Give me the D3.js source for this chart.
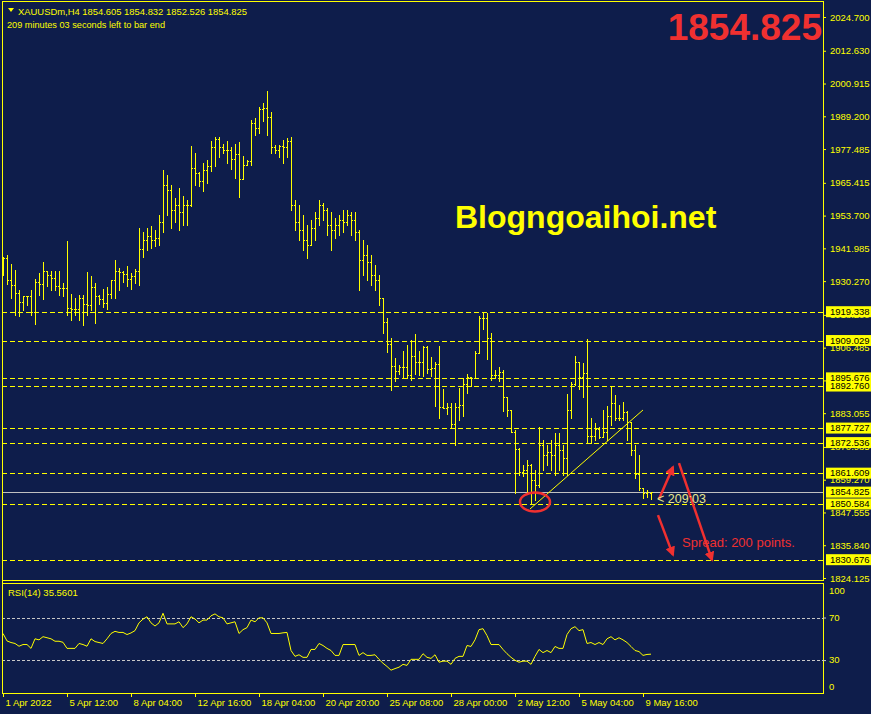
<!DOCTYPE html>
<html><head><meta charset="utf-8">
<script src="https://cdn.jsdelivr.net/npm/d3@7"></script>
<style>html,body{margin:0;padding:0;background:#0e1d4b;overflow:hidden}</style>
</head><body>
<svg id="c" width="871" height="714"></svg>
<script>
const symbol = "XAUUSDm,H4";
const countdownText = "209 minutes 03 seconds left to bar end";
const openP = [1934.3,1938.5,1930.7,1928.9,1926.0,1922.8,1924.9,1924.9,1919.2,1930.0,
1929.2,1933.9,1932.5,1931.4,1928.5,1927.8,1927.8,1920.7,1920.3,1920.3,
1924.2,1922.1,1921.7,1928.2,1924.9,1923.9,1922.5,1925.7,1930.7,1933.9,
1933.5,1932.8,1931.0,1932.1,1933.9,1941.8,1945.0,1946.4,1945.0,1945.7,
1951.4,1964.6,1962.9,1955.7,1957.5,1955.0,1957.5,1957.5,1970.7,1968.9,
1966.1,1970.0,1971.4,1978.2,1981.1,1978.2,1977.2,1977.2,1973.9,1975.7,
1966.8,1971.8,1973.2,1986.8,1985.0,1991.8,1992.2,1989.0,1978.2,1977.2,
1978.6,1978.2,1980.4,1957.5,1951.4,1948.6,1945.0,1943.2,1949.3,1952.8,
1957.5,1955.7,1950.3,1948.6,1950.3,1952.1,1951.4,1953.9,1952.1,1947.8,
1937.8,1939.6,1937.1,1932.5,1930.7,1924.2,1915.7,1907.8,1900.0,1898.1,
1899.6,1899.6,1896.7,1903.5,1901.4,1901.4,1906.7,1898.9,1899.2,1900.6,
1885.3,1884.9,1885.3,1879.2,1885.3,1886.0,1893.5,1896.0,1895.6,1904.6,
1917.1,1917.1,1910.0,1896.7,1896.7,1897.8,1888.8,1884.2,1876.3,1870.2,
1862.0,1862.7,1864.5,1859.2,1857.4,1871.7,1868.1,1869.2,1868.1,1871.7,
1869.9,1867.0,1884.2,1893.5,1901.4,1896.0,1897.4,1874.9,1874.9,1877.4,
1874.5,1876.3,1882.1,1886.7,1881.3,1881.3,1883.5,1879.9,1869.9,1861.3,
1856.3,1854.5,1854.605];
const highP = [1938.9,1939.6,1936.4,1934.2,1927.1,1924.9,1924.9,1927.1,1931.0,1933.2,
1937.1,1933.9,1933.9,1933.9,1933.9,1929.6,1944.6,1925.7,1924.2,1925.3,
1925.3,1933.5,1932.1,1929.6,1925.3,1927.5,1928.2,1930.7,1937.8,1935.0,
1933.9,1935.7,1933.2,1934.6,1949.3,1947.8,1949.3,1950.0,1948.6,1953.9,
1970.0,1968.2,1964.6,1960.0,1963.6,1960.7,1959.3,1978.6,1976.1,1969.3,
1972.5,1973.6,1980.4,1981.8,1981.8,1979.3,1980.4,1978.2,1979.3,1980.0,
1975.0,1973.6,1987.9,1988.6,1992.5,1994.0,1998.2,1990.7,1978.9,1978.9,
1980.7,1981.5,1981.8,1959.3,1957.5,1953.9,1950.3,1952.1,1955.0,1959.3,
1958.2,1956.4,1955.0,1952.8,1953.9,1955.7,1955.7,1955.0,1955.0,1948.6,
1945.0,1943.2,1939.6,1936.0,1932.5,1924.2,1917.1,1909.9,1902.8,1900.3,
1905.3,1907.4,1909.2,1911.4,1905.3,1907.1,1907.1,1903.1,1901.4,1907.1,
1891.7,1886.7,1886.7,1886.7,1892.1,1895.6,1897.1,1896.0,1905.3,1917.8,
1919.3,1919.0,1911.7,1898.5,1899.6,1898.5,1888.8,1884.2,1877.0,1870.6,
1864.5,1866.3,1865.0,1862.7,1878.1,1873.5,1871.7,1873.5,1876.0,1876.0,
1871.7,1889.9,1894.2,1903.5,1901.4,1901.0,1909.6,1881.3,1879.5,1878.1,
1884.2,1885.6,1892.8,1889.6,1886.0,1887.1,1884.0,1880.0,1871.7,1868.1,
1856.3,1855.6,1854.832];
const lowP = [1932.5,1929.2,1924.2,1918.2,1917.8,1920.0,1921.7,1918.2,1914.9,1925.3,
1923.9,1928.5,1927.1,1927.1,1925.3,1924.9,1918.2,1916.4,1918.2,1916.4,
1914.6,1918.2,1920.0,1915.3,1922.1,1921.0,1920.3,1924.2,1924.2,1927.1,
1930.0,1928.5,1927.5,1929.6,1928.9,1938.9,1941.4,1942.1,1942.8,1943.2,
1947.8,1953.9,1949.3,1951.4,1948.6,1950.3,1950.3,1957.0,1964.6,1964.3,
1962.5,1965.4,1969.6,1971.4,1974.6,1976.1,1972.5,1970.4,1967.1,1960.3,
1966.8,1971.8,1971.8,1982.5,1983.2,1987.5,1982.5,1976.1,1976.1,1974.6,
1972.5,1974.6,1955.7,1948.6,1945.0,1941.4,1938.5,1943.2,1945.0,1950.3,
1952.1,1946.8,1941.4,1945.7,1946.8,1947.8,1950.3,1946.8,1945.0,1927.1,
1932.5,1930.7,1928.9,1927.1,1921.7,1911.7,1904.9,1891.3,1894.6,1897.1,
1896.0,1895.6,1894.9,1897.1,1896.7,1896.3,1897.4,1896.3,1885.6,1881.3,
1884.9,1882.8,1877.8,1871.7,1880.6,1882.1,1890.3,1892.8,1895.6,1904.6,
1913.2,1902.4,1894.9,1895.6,1894.6,1883.8,1882.1,1876.3,1854.5,1861.0,
1860.6,1854.5,1850.584,1852.0,1856.7,1862.7,1864.5,1862.7,1861.0,1862.7,
1861.0,1861.0,1881.3,1893.0,1891.7,1888.8,1872.4,1872.4,1873.5,1874.2,
1874.5,1873.5,1878.8,1880.6,1880.6,1880.6,1873.5,1868.1,1859.9,1855.6,
1852.7,1853.1,1852.526];
const closeP = [1938.5,1930.7,1928.9,1926.0,1922.8,1924.9,1924.9,1919.2,1930.0,1929.2,
1933.9,1932.5,1931.4,1928.5,1927.8,1927.8,1920.7,1920.3,1920.3,1924.2,
1922.1,1921.7,1928.2,1924.9,1923.9,1922.5,1925.7,1930.7,1933.9,1933.5,
1932.8,1931.0,1932.1,1933.9,1941.8,1945.0,1946.4,1945.0,1945.7,1951.4,
1964.6,1962.9,1955.7,1957.5,1955.0,1957.5,1957.5,1970.7,1968.9,1966.1,
1970.0,1971.4,1978.2,1981.1,1978.2,1977.2,1977.2,1973.9,1975.7,1966.8,
1971.8,1973.2,1986.8,1985.0,1991.8,1992.2,1989.0,1978.2,1977.2,1978.6,
1978.2,1980.4,1957.5,1951.4,1948.6,1945.0,1943.2,1949.3,1952.8,1957.5,
1955.7,1950.3,1948.6,1950.3,1952.1,1951.4,1953.9,1952.1,1947.8,1937.8,
1939.6,1937.1,1932.5,1930.7,1924.2,1915.7,1907.8,1900.0,1898.1,1899.6,
1899.6,1896.7,1903.5,1901.4,1901.4,1906.7,1898.9,1899.2,1900.6,1885.3,
1884.9,1885.3,1879.2,1885.3,1886.0,1893.5,1896.0,1895.6,1904.6,1917.1,
1917.1,1910.0,1896.7,1896.7,1897.8,1888.8,1884.2,1876.3,1870.2,1862.0,
1862.7,1864.5,1859.2,1857.4,1871.7,1868.1,1869.2,1868.1,1871.7,1869.9,
1867.0,1884.2,1893.5,1901.4,1896.0,1897.4,1874.9,1874.9,1877.4,1874.5,
1876.3,1882.1,1886.7,1881.3,1881.3,1883.5,1879.9,1869.9,1861.3,1856.3,
1854.5,1854.9,1854.825];
const rsiValues = [55,48,46.5,45.6,43,44.6,44.6,41,50,49,
52,51,50,47.7,47.7,46.7,41,41,41,45.6,
44.6,43,50,47.4,46.5,45.6,50,55,57,56,
56,54,55.5,57.7,65,68.5,70.7,65,62,65,
74,64,64,64,66,60.5,64,70.7,68.6,65,
67.6,67.6,71.6,73.4,70.7,69.7,64,65,66,55,
58.6,60.5,67.6,66,69.7,69.7,65,55,55,55,
55.6,56,39,33.5,35,32.6,32.6,40,40,45.6,
43.7,41,39,34.4,34.4,44.6,44.6,44.6,44.6,34.4,
37,34.4,34.4,35,30.7,27,24,20.5,22,23.3,
26,25,30.7,30.7,30.7,36,32.6,31.6,35,28,
29,29,26,31.6,33.5,33.5,43.7,42.8,49,58.6,
59.5,53,44.6,44.6,44.6,40,36,32.6,29.8,28,
29,29,26,33.5,40,37,39,37,42.8,41,
41,54,59.5,61.4,57.7,58.6,45.6,46.5,44.6,46.5,
44.6,50,52,49,51,49,46.5,42.8,39,38,
34.4,35.3,35.5601];
const xLabelBars = [0,16,32,48,64,80,96,112,128,144,160];
const xLabels = ["1 Apr 2022","5 Apr 12:00","8 Apr 04:00","12 Apr 16:00","18 Apr 04:00","20 Apr 20:00","25 Apr 08:00","28 Apr 00:00","2 May 12:00","5 May 04:00","9 May 16:00"];
const priceTicks = [2024.700,2012.630,2000.915,1989.200,1977.485,1965.415,1953.700,1941.985,1930.270,1918.200,1906.485,1894.770,1883.055,1870.985,1859.270,1847.555,1835.840,1824.125];
const levelLines = [1919.338,1909.029,1895.676,1892.760,1877.727,1872.536,1861.609,1850.584,1830.676];
const currentPrice = 1854.825;
const rsiLabelTicks = [100,70,30,0];
const rsiLevels = [70,30];
const trendLine = [[131.75,1848.8],[160,1884.2]];
const lowMarker = [133,1851.3];
const arrows = [[[164,1852.4],[167.5,1863.8]],[[169,1865.2],[177.25,1830.6]],[[163.75,1846.6],[167.5,1832.4]]];
const timerLabel = {bar:163.5, price:1850.9, text:"< 209:03"};
const spreadLabel = {bar:169.75, price:1835.2, text:"Spread: 200 points."};
const watermark = "Blogngoaihoi.net";

const svg = d3.select("#c");
const BG = "#0e1d4b", YEL = "#ffff00", RED = "#f03030";
const FONT = "'Liberation Sans', Arial, sans-serif";
const L = 2, R = 823, T = 1, B = 580, RT = 583, RB = 693;
const n = Math.min(openP.length, highP.length, lowP.length, closeP.length);
const x = d3.scaleLinear().domain([0,162]).range([3,651]);
const y = d3.scaleLinear().domain([1824.125,2024.7]).range([578,17]);
const yR = d3.scaleLinear().domain([0,100]).range([692,585.6]);
const fmt3 = d3.format(".3f");

svg.append("rect").attr("width",871).attr("height",714).attr("fill",BG);

const defs = svg.append("defs");
defs.append("marker").attr("id","ah").attr("viewBox","0 0 10 10").attr("refX",8).attr("refY",5)
  .attr("markerWidth",4).attr("markerHeight",4).attr("orient","auto")
  .append("path").attr("d","M0,0 L10,5 L0,10 Z").attr("fill",RED);
defs.append("clipPath").attr("id","mainClip").append("rect").attr("x",L).attr("y",T).attr("width",R-L).attr("height",B-T);

const main = svg.append("g").attr("clip-path","url(#mainClip)");

// level lines
main.selectAll("line.lvl").data(levelLines).enter().append("line")
  .attr("x1",L).attr("x2",R).attr("y1",d=>Math.round(y(d))+0.5).attr("y2",d=>Math.round(y(d))+0.5)
  .attr("stroke",YEL).attr("stroke-width",1).attr("stroke-dasharray","5,3").attr("shape-rendering","crispEdges");
main.append("line").attr("x1",L).attr("x2",R).attr("y1",Math.round(y(currentPrice))+0.5).attr("y2",Math.round(y(currentPrice))+0.5)
  .attr("stroke","#c0c0c0").attr("stroke-width",1).attr("shape-rendering","crispEdges");

// OHLC bars
const barPath = d3.range(n).map(i=>{
  const xr = Math.round(x(i));
  const yh = Math.round(y(highP[i])), yl = Math.round(y(lowP[i]));
  const yo = Math.round(y(openP[i]))+0.5, yc = Math.round(y(closeP[i]))+0.5;
  return `M${xr+0.5},${yh}V${Math.max(yl,yh+1)+1}M${xr-1},${yo}H${xr}M${xr+1},${yc}H${xr+2}`;
}).join("");
main.append("path").attr("d",barPath).attr("stroke",YEL).attr("stroke-width",1).attr("fill","none").attr("shape-rendering","crispEdges");

// trend line
main.append("line").attr("x1",x(trendLine[0][0])).attr("y1",y(trendLine[0][1])).attr("x2",x(trendLine[1][0])).attr("y2",y(trendLine[1][1]))
  .attr("stroke",YEL).attr("stroke-width",1);

// annotations
main.append("ellipse").attr("cx",x(lowMarker[0])).attr("cy",y(lowMarker[1])).attr("rx",15).attr("ry",9.5)
  .attr("fill","none").attr("stroke",RED).attr("stroke-width",2.5);
main.selectAll("line.arr").data(arrows).enter().append("line")
  .attr("x1",d=>x(d[0][0])).attr("y1",d=>y(d[0][1])).attr("x2",d=>x(d[1][0])).attr("y2",d=>y(d[1][1]))
  .attr("stroke",RED).attr("stroke-width",2.5).attr("marker-end","url(#ah)");
main.append("text").attr("x",x(timerLabel.bar)).attr("y",y(timerLabel.price)).text(timerLabel.text)
  .attr("fill","#e6e68c").attr("font-family",FONT).attr("font-size","12.5px");
main.append("text").attr("x",x(spreadLabel.bar)).attr("y",y(spreadLabel.price)).text(spreadLabel.text)
  .attr("fill",RED).attr("font-family",FONT).attr("font-size","13px");
main.append("text").attr("x",455).attr("y",228).text(watermark)
  .attr("fill",YEL).attr("font-family",FONT).attr("font-size","32px").attr("font-weight","bold");
main.append("text").attr("x",822).attr("y",40).attr("text-anchor","end").text(fmt3(currentPrice))
  .attr("fill",RED).attr("font-family",FONT).attr("font-size","37px").attr("font-weight","bold");

// header
svg.append("path").attr("d","M8,8L14,8L11,12Z").attr("fill",YEL);
svg.append("text").attr("x",18).attr("y",15)
  .text(symbol+"  "+[openP[n-1],highP[n-1],lowP[n-1],closeP[n-1]].map(fmt3).join(" "))
  .attr("fill",YEL).attr("font-family",FONT).attr("font-size","9.5px")
  .attr("textLength",229).attr("lengthAdjust","spacingAndGlyphs");
svg.append("text").attr("x",7).attr("y",28).text(countdownText)
  .attr("fill",YEL).attr("font-family",FONT).attr("font-size","9.5px")
  .attr("textLength",158).attr("lengthAdjust","spacingAndGlyphs");

// RSI panel
const rsiG = svg.append("g");
rsiG.selectAll("line.rl").data(rsiLevels).enter().append("line")
  .attr("x1",L).attr("x2",R).attr("y1",d=>Math.round(yR(d))+0.5).attr("y2",d=>Math.round(yR(d))+0.5)
  .attr("stroke","#c8c8c8").attr("stroke-dasharray","3,2").attr("shape-rendering","crispEdges");
rsiG.append("path").datum(rsiValues).attr("d",d3.line().x((d,i)=>x(i)).y(d=>yR(d)))
  .attr("fill","none").attr("stroke",YEL).attr("stroke-width",1);
rsiG.append("text").attr("x",8).attr("y",596).text("RSI(14) "+d3.format(".4f")(rsiValues[rsiValues.length-1]))
  .attr("fill",YEL).attr("font-family",FONT).attr("font-size","9.5px");

// frames
const frame = svg.append("g").attr("stroke",YEL).attr("stroke-width",1).attr("shape-rendering","crispEdges").attr("fill","none");
frame.append("path").attr("d",`M${L+0.5},${T}V${RB}M${L},${T+0.5}H${R}M${L},${B+0.5}H${R+1}M${L},${RT+0.5}H${R+1}M${L},${RB+0.5}H${R+1}M${R+0.5},${T}V${B+1}M${R+0.5},${RT}V${RB+1}`);

// price axis
const pAx = svg.append("g").attr("transform",`translate(${R},0)`)
  .call(d3.axisRight(y).tickValues(priceTicks).tickFormat(fmt3).tickSize(3).tickSizeOuter(0).tickPadding(4));
pAx.select(".domain").remove();
pAx.selectAll("line").attr("stroke",YEL);
pAx.selectAll("text").attr("fill",YEL).attr("font-family",FONT).attr("font-size","9.5px");

// level boxes
const boxes = svg.append("g");
const boxData = levelLines.concat([currentPrice]);
boxes.selectAll("rect").data(boxData).enter().append("rect")
  .attr("x",R+3).attr("width",871-R-3).attr("y",d=>y(d)-5.5).attr("height",11).attr("fill",YEL);
boxes.selectAll("text").data(boxData).enter().append("text")
  .attr("x",830).attr("y",d=>y(d)).attr("dy","0.35em").text(fmt3)
  .attr("fill","#000").attr("font-family",FONT).attr("font-size","9.5px");

// RSI axis
const rAx = svg.append("g").attr("transform",`translate(${R},0)`)
  .call(d3.axisRight(yR).tickValues(rsiLevels).tickFormat("").tickSize(3).tickSizeOuter(0));
rAx.select(".domain").remove();
rAx.selectAll("line").attr("stroke","#c8c8c8");
svg.selectAll("text.rt").data(rsiLabelTicks).enter().append("text")
  .attr("x",829).attr("y",d=>Math.max(591,Math.min(687,yR(d)))).attr("dy","0.35em").text(d=>d)
  .attr("fill",YEL).attr("font-family",FONT).attr("font-size","9.5px");

// time axis
const tAx = svg.append("g").attr("transform",`translate(0,${RB})`)
  .call(d3.axisBottom(x).tickValues(xLabelBars).tickFormat((d,i)=>xLabels[i]).tickSize(4).tickSizeOuter(0).tickPadding(2));
tAx.select(".domain").remove();
tAx.selectAll("line").attr("stroke",YEL);
tAx.selectAll("text").attr("fill",YEL).attr("font-family",FONT).attr("font-size","9.5px").attr("text-anchor","start").attr("dx","2");
</script>
</body></html>
